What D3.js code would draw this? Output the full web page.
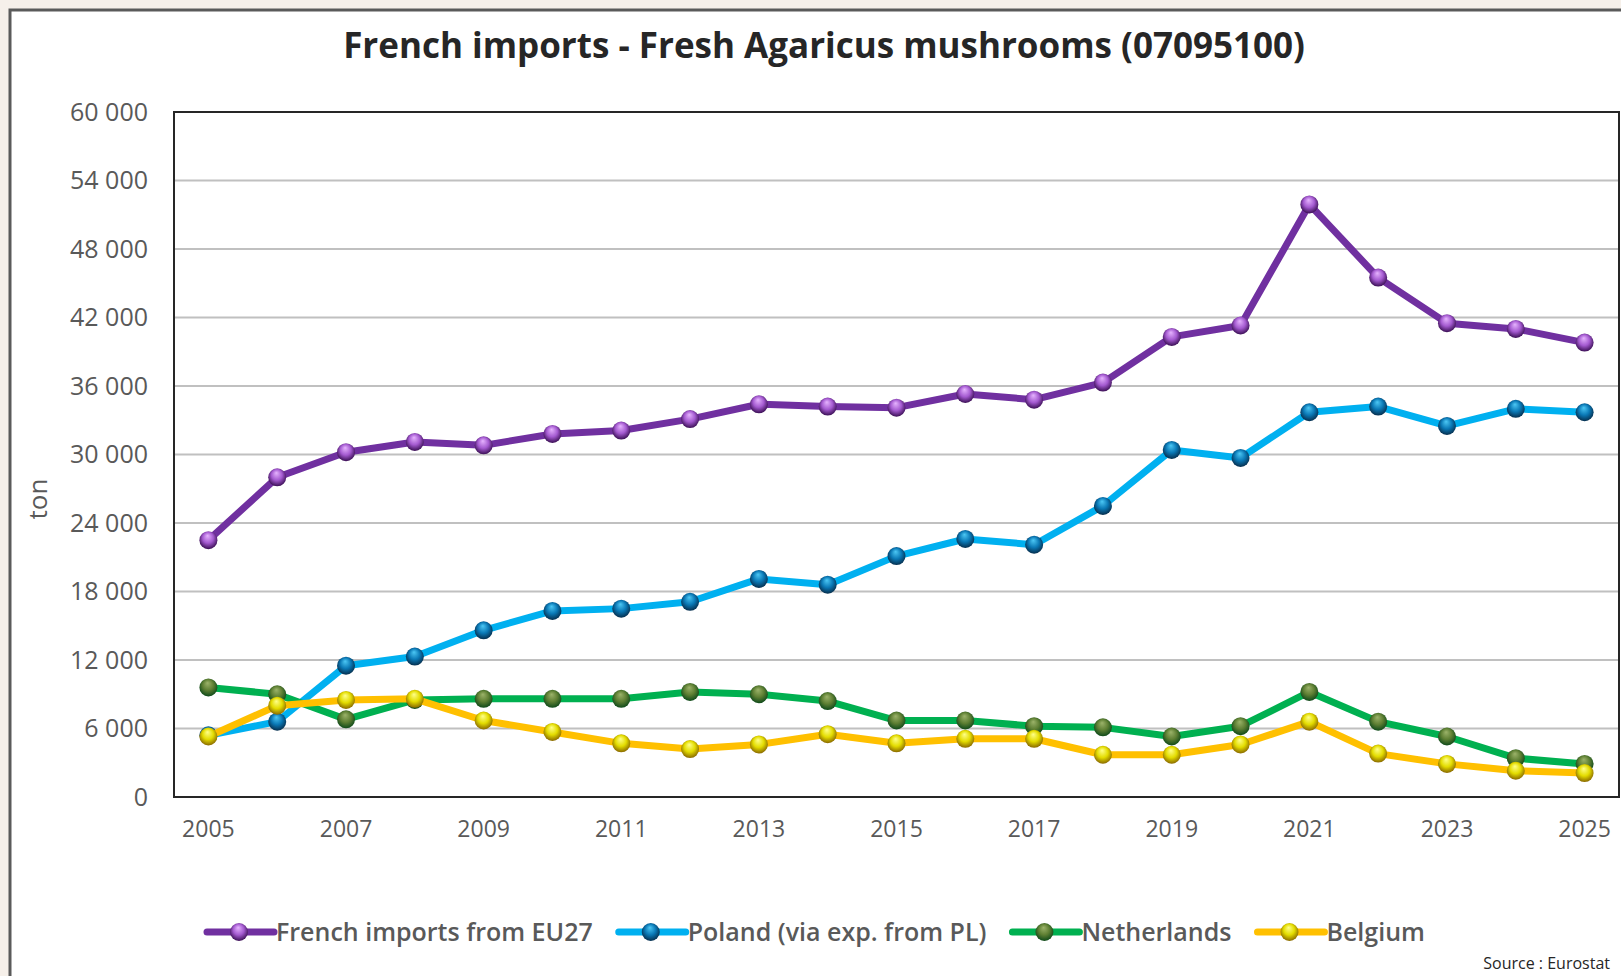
<!DOCTYPE html>
<html>
<head>
<meta charset="utf-8">
<script src="https://cdn.jsdelivr.net/npm/d3@7"></script>
<style>
  body { margin: 0; background: #f6f0ea; overflow: hidden; }
  svg { display: block; }
</style>
</head>
<body>
<script>
// values (tonnes)
const years = d3.range(2005, 2026);
const eu27 = [22500, 28000, 30200, 31100, 30800, 31800, 32100, 33100, 34400, 34200, 34100, 35300, 34800, 36300, 40300, 41300, 51900, 45500, 41500, 41000, 39800];
const poland = [5400, 6600, 11500, 12300, 14600, 16300, 16500, 17100, 19100, 18600, 21100, 22600, 22100, 25500, 30400, 29700, 33700, 34200, 32500, 34000, 33700];
const netherlands = [9600, 9000, 6800, 8500, 8600, 8600, 8600, 9200, 9000, 8400, 6700, 6700, 6200, 6100, 5300, 6200, 9200, 6600, 5300, 3400, 2900];
const belgium = [5300, 8000, 8500, 8600, 6700, 5700, 4700, 4200, 4600, 5500, 4700, 5100, 5100, 3700, 3700, 4600, 6600, 3800, 2900, 2300, 2100];

const seriesNames = ["French imports from EU27", "Poland (via exp. from PL)", "Netherlands", "Belgium"];
const seriesValues = [eu27, poland, netherlands, belgium];
const lineColors = ["#7030a0", "#00b0f0", "#00b050", "#ffc000"];
// marker shading: highlight, body, rim
const markerShades = [
  ["#e6b3ff", "#a45ad0", "#3b0f55"],
  ["#4cc8f5", "#0a78b5", "#062f4e"],
  ["#9cb36a", "#5e7f33", "#0f4a1a"],
  ["#ffff8a", "#e3dc00", "#8a6a00"]
];

const yTicks = d3.range(0, 60001, 6000);
const xTickYears = years.filter((y) => (y - 2005) % 2 === 0);

const width = 1621;
const height = 976;
const plot = { left: 174, top: 112, right: 1619, bottom: 797 };

const fmt = d3.formatLocale({ decimal: ",", thousands: "\u00a0", grouping: [3], currency: ["", ""] }).format(",d");

const svg = d3.select("body").append("svg")
  .attr("width", width)
  .attr("height", height);

// gradients for the shaded markers
const defs = svg.append("defs");
markerShades.forEach((s, i) => {
  const g = defs.append("radialGradient")
    .attr("id", "ball" + i)
    .attr("cx", "50%").attr("cy", "45%").attr("r", "55%")
    .attr("fx", "45%").attr("fy", "25%");
  g.append("stop").attr("offset", "0%").attr("stop-color", s[0]);
  g.append("stop").attr("offset", "55%").attr("stop-color", s[1]);
  g.append("stop").attr("offset", "100%").attr("stop-color", s[2]);
});

// chart frame
svg.append("rect")
  .attr("x", 10).attr("y", 10)
  .attr("width", width + 20).attr("height", height + 20)
  .attr("fill", "#ffffff")
  .attr("stroke", "#5a5a5a")
  .attr("stroke-width", 3);

svg.append("text")
  .attr("x", 824).attr("y", 58)
  .attr("text-anchor", "middle")
  .attr("font-family", "Open Sans")
  .attr("font-weight", 700)
  .attr("font-size", 35)
  .attr("fill", "#262626")
  .text("French imports - Fresh Agaricus mushrooms (07095100)");

const x = d3.scaleBand().domain(years).range([plot.left, plot.right]);
const y = d3.scaleLinear().domain([0, 60000]).range([plot.bottom, plot.top]);
const cx = (yr) => x(yr) + x.bandwidth() / 2;

// gridlines
svg.append("g")
  .selectAll("line")
  .data(yTicks.filter((t) => t > 0 && t < 60000))
  .join("line")
  .attr("x1", plot.left).attr("x2", plot.right)
  .attr("y1", (d) => y(d)).attr("y2", (d) => y(d))
  .attr("stroke", "#c0c0c0")
  .attr("stroke-width", 2.2);

// y axis labels
const yAxis = svg.append("g")
  .attr("transform", `translate(${plot.left},0)`)
  .call(d3.axisLeft(y).tickValues(yTicks).tickFormat(fmt).tickSize(0).tickPadding(26));
yAxis.select(".domain").remove();
yAxis.selectAll("text")
  .attr("font-family", "Open Sans")
  .attr("font-size", 25)
  .attr("fill", "#595959");

// x axis labels
const xAxis = svg.append("g")
  .attr("transform", `translate(0,${plot.bottom})`)
  .call(d3.axisBottom(x).tickValues(xTickYears).tickSize(0).tickPadding(24));
xAxis.select(".domain").remove();
xAxis.selectAll("text")
  .attr("font-family", "Open Sans")
  .attr("font-size", 23)
  .attr("fill", "#595959");

svg.append("text")
  .attr("transform", "translate(47,499) rotate(-90)")
  .attr("text-anchor", "middle")
  .attr("font-family", "Open Sans")
  .attr("font-size", 26)
  .attr("fill", "#595959")
  .text("ton");

// plot border
svg.append("rect")
  .attr("x", plot.left).attr("y", plot.top)
  .attr("width", plot.right - plot.left).attr("height", plot.bottom - plot.top)
  .attr("fill", "none")
  .attr("stroke", "#262626")
  .attr("stroke-width", 2);

const line = d3.line().x((d) => cx(d.year)).y((d) => y(d.value));

seriesValues.forEach((vals, i) => {
  const pts = years.map((yr, j) => ({ year: yr, value: vals[j] }));
  const g = svg.append("g");
  g.append("path")
    .datum(pts)
    .attr("d", line)
    .attr("fill", "none")
    .attr("stroke", lineColors[i])
    .attr("stroke-width", 7)
    .attr("stroke-linejoin", "round");
  g.selectAll("circle")
    .data(pts)
    .join("circle")
    .attr("cx", (d) => cx(d.year))
    .attr("cy", (d) => y(d.value))
    .attr("r", 9)
    .attr("fill", `url(#ball${i})`);
});

// legend
const legend = svg.append("g").attr("transform", "translate(0,932)");
let lx = 207;
seriesNames.forEach((name, i) => {
  const item = legend.append("g").attr("transform", `translate(${lx},0)`);
  item.append("line")
    .attr("x1", 0).attr("x2", 67)
    .attr("stroke", lineColors[i])
    .attr("stroke-width", 7)
    .attr("stroke-linecap", "round");
  item.append("circle")
    .attr("cx", 32).attr("r", 9)
    .attr("fill", `url(#ball${i})`);
  const t = item.append("text")
    .attr("x", 69)
    .attr("dy", "0.35em")
    .attr("font-family", "Open Sans")
    .attr("font-weight", 600)
    .attr("font-size", 25)
    .attr("fill", "#595959")
    .text(name);
  lx += 69 + t.node().getComputedTextLength() + 26;
});

svg.append("text")
  .attr("x", 1610).attr("y", 963)
  .attr("dy", "0.35em")
  .attr("text-anchor", "end")
  .attr("font-family", "Open Sans")
  .attr("font-size", 16)
  .attr("fill", "#262626")
  .text("Source : Eurostat");
</script>
</body>
</html>
